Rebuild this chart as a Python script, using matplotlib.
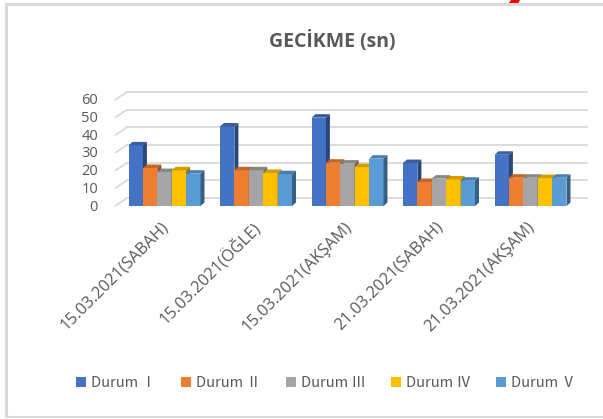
import matplotlib
matplotlib.use("Agg")
import matplotlib.pyplot as plt
from matplotlib.patches import Polygon
from matplotlib.colors import to_rgb
import numpy as np

categories = ["15.03.2021(SABAH)", "15.03.2021(ÖĞLE)", "15.03.2021(AKŞAM)",
              "21.03.2021(SABAH)", "21.03.2021(AKŞAM)"]
series_names = ["Durum Ⅰ", "Durum Ⅱ", "Durum Ⅲ", "Durum Ⅳ", "Durum Ⅴ"]
durum1 = [34.3, 45.0, 50.0, 24.3, 29.0]
durum2 = [21.5, 20.2, 24.5, 13.6, 16.0]
durum3 = [19.2, 20.2, 24.0, 15.5, 16.0]
durum4 = [20.2, 18.7, 22.0, 15.0, 15.8]
durum5 = [18.3, 18.0, 26.8, 14.3, 16.0]
series = [durum1, durum2, durum3, durum4, durum5]
yticks = [0, 10, 20, 30, 40, 50, 60]
title = "GECİKME (sn)"

colors = ["#4472C4", "#ED7D31", "#A5A5A5", "#FFC000", "#5B9BD5"]
txt_color = "#595959"
grid_color = "#D9D9D9"

W, H = 603, 419
fig = plt.figure(figsize=(W / 100, H / 100), dpi=100)
fig.patch.set_facecolor("white")

# pixel geometry
px_per_cat = 91.5
x0_px = 164.5
px_per_unit = 1.767
y0_px = 206.0
ax_left, ax_right, ax_top, ax_bot = 60, 600, 80, 215
ax = fig.add_axes([ax_left / W, 1 - ax_bot / H, (ax_right - ax_left) / W, (ax_bot - ax_top) / H])
ax.set_xlim((ax_left - x0_px) / px_per_cat, (ax_right - x0_px) / px_per_cat)
ax.set_ylim((y0_px - ax_bot) / px_per_unit, (y0_px - ax_top) / px_per_unit)
ax.axis("off")

def dx(px):
    return px / px_per_cat

def dy(px):
    return px / px_per_unit

# back wall gridlines + side diagonals
back_dx, back_dy = dx(12), dy(8)
x_front_left = (115 - x0_px) / px_per_cat
x_back_right = (587 - x0_px) / px_per_cat
for v in yticks:
    ax.plot([x_front_left, x_front_left + back_dx], [v, v + back_dy],
            color=grid_color, lw=1.3, zorder=1, clip_on=False, solid_capstyle="butt")
    ax.plot([x_front_left + back_dx, x_back_right], [v + back_dy, v + back_dy],
            color=grid_color, lw=1.3, zorder=1, clip_on=False)
    ax.text((98 - x0_px) / px_per_cat, v + dy(-1), str(v), ha="right", va="center",
            fontsize=10.5, color=txt_color, family="Open Sans")

# bars with 3D-like faces
n = len(series)
bw = 72 / 5 / px_per_cat
x = np.arange(len(categories))
bar_dx, bar_dy = dx(4), dy(3.5)

def shade(c, f):
    r, g, b = to_rgb(c)
    return (r * f, g * f, b * f)

handles = []
for k, (vals, col) in enumerate(zip(series, colors)):
    xs = x + (k - (n - 1) / 2) * bw
    bars = ax.bar(xs, vals, width=bw, color=col, zorder=3 + k, linewidth=0,
                  label=series_names[k])
    handles.append(bars)
    for xi, v in zip(xs, vals):
        l, r = xi - bw / 2, xi + bw / 2
        top = Polygon([[l, v], [r, v], [r + bar_dx, v + bar_dy], [l + bar_dx, v + bar_dy]],
                      closed=True, facecolor=shade(col, 0.82), edgecolor="none", zorder=3 + k)
        side = Polygon([[r, 0], [r + bar_dx, bar_dy], [r + bar_dx, v + bar_dy], [r, v]],
                       closed=True, facecolor=shade(col, 0.62), edgecolor="none", zorder=3 + k)
        ax.add_patch(top)
        ax.add_patch(side)

# category labels
for i, c in enumerate(categories):
    ax.text(i + dx(-4), dy(-13), c, rotation=45, rotation_mode="anchor", ha="right", va="top",
            fontsize=11.8, color=txt_color, family="Open Sans", clip_on=False)

# title
fig.text(332 / W, 1 - 42 / H, title, ha="center", va="center", fontsize=14,
         fontweight="bold", color=txt_color, family="Open Sans")

# legend
leg = fig.legend(handles=handles, labels=series_names, loc="center",
                 bbox_to_anchor=(326 / W, 1 - 383 / H), ncol=5, frameon=False,
                 handlelength=0.65, handleheight=0.65, handletextpad=0.35, columnspacing=1.75,
                 prop={"family": ["Noto Sans CJK JP"], "size": 10.5})
for t in leg.get_texts():
    t.set_color(txt_color)

# outer frame of the screenshot
fa = fig.add_axes([0, 0, 1, 1], zorder=-1)
fa.set_xlim(0, W)
fa.set_ylim(H, 0)
fa.axis("off")
fa.plot([6, 6, W], [416, 4, 4], color=grid_color, lw=2.2, solid_joinstyle="miter")
fa.plot([6, W], [416.5, 416.5], color=grid_color, lw=1.5)
fa.add_patch(Polygon([[508, 4], [518, 4], [520, 0], [511, 0]], closed=True,
                     facecolor="#FF0000", edgecolor="none"))

fig.savefig("out.png", dpi=100, facecolor="white")
